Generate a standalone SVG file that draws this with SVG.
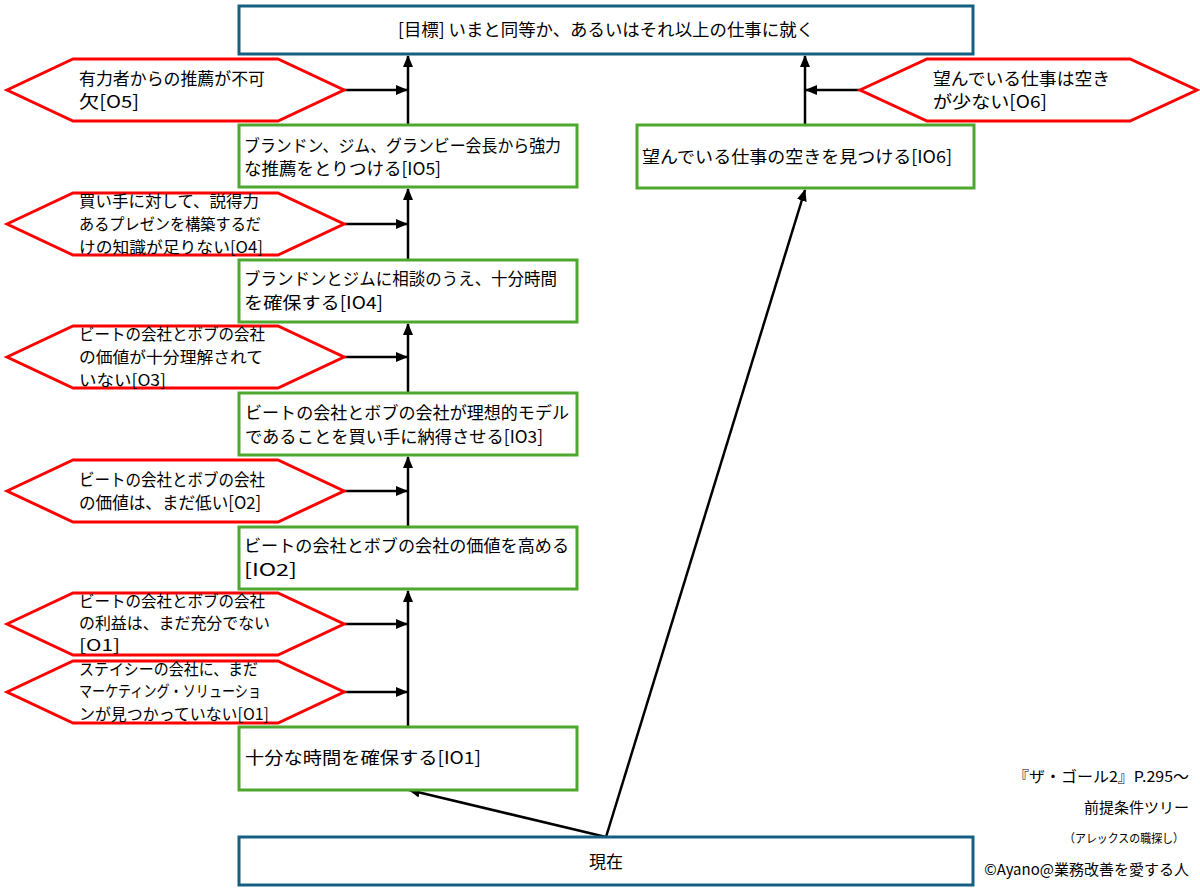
<svg xmlns="http://www.w3.org/2000/svg" width="1200" height="889" viewBox="0 0 1200 889">
<style>
  text{font-family:"Noto Sans CJK JP","Noto Sans",sans-serif;fill:#000;}
  .t{font-size:17px;}
  .h3{font-size:16px;}
  .n{font-size:15px;}
  .s{font-size:12px;}
  .goal{fill:#fff;stroke:#156082;stroke-width:3;}
  .io{fill:#fff;stroke:#4EA72E;stroke-width:3;}
  .ob{fill:#fff;stroke:#FF0000;stroke-width:3;stroke-linejoin:miter;}
  .c{stroke:#000;stroke-width:2.5;fill:none;marker-end:url(#ah);}
</style>
<defs>
  <marker id="ah" markerUnits="userSpaceOnUse" markerWidth="12" markerHeight="10" refX="11" refY="5" orient="auto">
    <path d="M0,0 L12,5 L0,10 Z" fill="#000"/>
  </marker>
</defs>
<rect width="1200" height="889" fill="#fff"/>

<g id="connectors">
  <line class="c" x1="408" y1="125" x2="408" y2="56"/>
  <line class="c" x1="408" y1="260" x2="408" y2="189"/>
  <line class="c" x1="408" y1="393" x2="408" y2="324"/>
  <line class="c" x1="408" y1="527" x2="408" y2="457"/>
  <line class="c" x1="408" y1="727" x2="408" y2="591"/>
  <line class="c" x1="344" y1="90" x2="407" y2="90"/>
  <line class="c" x1="344" y1="224" x2="407" y2="224"/>
  <line class="c" x1="344" y1="357" x2="407" y2="357"/>
  <line class="c" x1="344" y1="491" x2="407" y2="491"/>
  <line class="c" x1="344" y1="624" x2="407" y2="624"/>
  <line class="c" x1="344" y1="692" x2="407" y2="692"/>
  <line class="c" x1="805" y1="125" x2="805" y2="56"/>
  <line class="c" x1="860" y1="90" x2="806" y2="90"/>
  <line class="c" x1="606" y1="837" x2="409" y2="790"/>
  <line class="c" x1="606" y1="837" x2="805" y2="190"/>
</g>

<g id="goal">
  <rect class="goal" x="239" y="6" width="734" height="48"/>
  <text class="t" x="606" y="36" text-anchor="middle" textLength="416" lengthAdjust="spacingAndGlyphs">[目標] いまと同等か、あるいはそれ以上の仕事に就く</text>
</g>

<g id="O5">
  <polygon class="ob" points="7,90 73,59 278,59 344,90 278,121 73,121"/>
  <text class="t" x="79" y="85" textLength="186" lengthAdjust="spacingAndGlyphs">有力者からの推薦が不可</text>
  <text class="t" x="79" y="108" textLength="60" lengthAdjust="spacingAndGlyphs">欠[O5]</text>
</g>

<g id="IO5">
  <rect class="io" x="239" y="125" width="338" height="62"/>
  <text class="t" x="244" y="152" textLength="317" lengthAdjust="spacingAndGlyphs">ブランドン、ジム、グランビー会長から強力</text>
  <text class="t" x="244" y="175" textLength="197" lengthAdjust="spacingAndGlyphs">な推薦をとりつける[IO5]</text>
</g>

<g id="O4">
  <polygon class="ob" points="7,224 73,193 278,193 344,224 278,255 73,255"/>
  <text class="h3" x="79" y="207" textLength="180" lengthAdjust="spacingAndGlyphs">買い手に対して、説得力</text>
  <text class="h3" x="79" y="230" textLength="182" lengthAdjust="spacingAndGlyphs">あるプレゼンを構築するだ</text>
  <text class="h3" x="79" y="253" textLength="184" lengthAdjust="spacingAndGlyphs">けの知識が足りない[O4]</text>
</g>

<g id="IO4">
  <rect class="io" x="239" y="260" width="338" height="62"/>
  <text class="t" x="244" y="285" textLength="313" lengthAdjust="spacingAndGlyphs">ブランドンとジムに相談のうえ、十分時間</text>
  <text class="t" x="244" y="309" textLength="139" lengthAdjust="spacingAndGlyphs">を確保する[IO4]</text>
</g>

<g id="O3">
  <polygon class="ob" points="7,357 73,326 278,326 344,357 278,388 73,388"/>
  <text class="h3" x="79" y="340" textLength="186" lengthAdjust="spacingAndGlyphs">ビートの会社とボブの会社</text>
  <text class="h3" x="79" y="363" textLength="184" lengthAdjust="spacingAndGlyphs">の価値が十分理解されて</text>
  <text class="h3" x="79" y="386" textLength="87" lengthAdjust="spacingAndGlyphs">いない[O3]</text>
</g>

<g id="IO3">
  <rect class="io" x="239" y="393" width="338" height="62"/>
  <text class="t" x="245" y="419" textLength="324" lengthAdjust="spacingAndGlyphs">ビートの会社とボブの会社が理想的モデル</text>
  <text class="t" x="245" y="443" textLength="298" lengthAdjust="spacingAndGlyphs">であることを買い手に納得させる[IO3]</text>
</g>

<g id="O2">
  <polygon class="ob" points="7,491 73,460 278,460 344,491 278,522 73,522"/>
  <text class="t" x="79" y="486" textLength="186" lengthAdjust="spacingAndGlyphs">ビートの会社とボブの会社</text>
  <text class="t" x="79" y="509" textLength="182" lengthAdjust="spacingAndGlyphs">の価値は、まだ低い[O2]</text>
</g>

<g id="IO2">
  <rect class="io" x="239" y="527" width="338" height="62"/>
  <text class="t" x="244" y="552" textLength="325" lengthAdjust="spacingAndGlyphs">ビートの会社とボブの会社の価値を高める</text>
  <text class="t" x="244" y="576" textLength="53" lengthAdjust="spacingAndGlyphs">[IO2]</text>
</g>

<g id="O1a">
  <polygon class="ob" points="7,624 73,593 278,593 344,624 278,655 73,655"/>
  <text class="h3" x="79" y="607" textLength="186" lengthAdjust="spacingAndGlyphs">ビートの会社とボブの会社</text>
  <text class="h3" x="79" y="629" textLength="191" lengthAdjust="spacingAndGlyphs">の利益は、まだ充分でない</text>
  <text class="h3" x="79" y="651" textLength="41" lengthAdjust="spacingAndGlyphs">[O1]</text>
</g>

<g id="O1b">
  <polygon class="ob" points="7,692 73,661 278,661 344,692 278,723 73,723"/>
  <text class="h3" x="79" y="675" textLength="179" lengthAdjust="spacingAndGlyphs">ステイシーの会社に、まだ</text>
  <text class="h3" x="79" y="697" textLength="182" lengthAdjust="spacingAndGlyphs">マーケティング・ソリューショ</text>
  <text class="h3" x="79" y="720" textLength="190" lengthAdjust="spacingAndGlyphs">ンが見つかっていない[O1]</text>
</g>

<g id="IO1">
  <rect class="io" x="239" y="727" width="338" height="63"/>
  <text class="t" x="245" y="764" textLength="236" lengthAdjust="spacingAndGlyphs">十分な時間を確保する[IO1]</text>
</g>

<g id="O6">
  <polygon class="ob" points="860,90 927,59 1130,59 1197,90 1130,121 927,121"/>
  <text class="t" x="933" y="85" textLength="177" lengthAdjust="spacingAndGlyphs">望んでいる仕事は空き</text>
  <text class="t" x="933" y="108" textLength="114" lengthAdjust="spacingAndGlyphs">が少ない[O6]</text>
</g>

<g id="IO6">
  <rect class="io" x="637" y="125" width="337" height="63"/>
  <text class="t" x="642" y="163" textLength="310" lengthAdjust="spacingAndGlyphs">望んでいる仕事の空きを見つける[IO6]</text>
</g>

<g id="present">
  <rect class="goal" x="239" y="837" width="734" height="48"/>
  <text class="t" x="606" y="868" text-anchor="middle">現在</text>
</g>

<g id="notes">
  <text class="n" x="1189" y="782" text-anchor="end" textLength="176" lengthAdjust="spacingAndGlyphs">『ザ・ゴール2』P.295～</text>
  <text class="n" x="1189" y="813" text-anchor="end">前提条件ツリー</text>
  <text class="s" x="1184" y="843" text-anchor="end" textLength="120" lengthAdjust="spacingAndGlyphs">（アレックスの職探し）</text>
  <text class="n" x="1189" y="875" text-anchor="end">©Ayano@業務改善を愛する人</text>
</g>
</svg>
